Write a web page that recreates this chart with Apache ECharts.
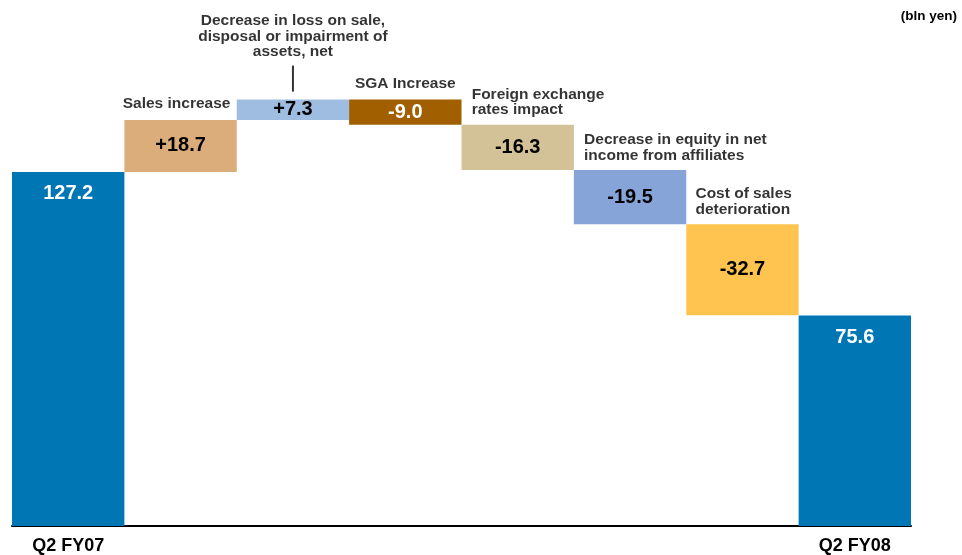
<!DOCTYPE html>
<html>
<head>
<meta charset="utf-8">
<script src="https://cdn.jsdelivr.net/npm/echarts@6/dist/echarts.min.js"></script>
<style>html,body{margin:0;padding:0;background:#fff}#c{width:962px;height:555px}</style>
</head>
<body>
<div id="c"></div>
<script>
// ---- data ----
var axisLabels = ['Q2 FY07', '', '', '', '', '', '', 'Q2 FY08'];
var itemNames = ['', 'Sales increase', 'Decrease in loss on sale,\ndisposal or impairment of\nassets, net', 'SGA Increase', 'Foreign exchange\nrates impact', 'Decrease in equity in net\nincome from affiliates', 'Cost of sales\ndeterioration', ''];
var changes = [127.2, 18.7, 7.3, -9.0, -16.3, -19.5, -32.7, 75.6];
var isTotal = [true, false, false, false, false, false, false, true];
var unitLabel = '(bln yen)';

// ---- styles ----
var colors = ['#0077B4', '#DAAD7B', '#9EBDE0', '#A15F00', '#D3C297', '#86A4D8', '#FFC44F', '#0077B4'];
var valueColors = ['#fff', '#000', '#000', '#fff', '#000', '#000', '#000', '#fff'];
var FONT = '"Liberation Sans", Arial, Helvetica, sans-serif';

// waterfall computation
var base = [], height = [], tops = [];
var running = 0;
for (var i = 0; i < changes.length; i++) {
  var v = changes[i];
  if (isTotal[i]) {
    base.push(0); height.push(v); running = v;
  } else if (v >= 0) {
    base.push(running); height.push(v); running += v;
  } else {
    base.push(running + v); height.push(-v); running += v;
  }
  tops.push(base[i] + height[i]);
}
function fmt(v, tot) {
  var s = Math.abs(v).toFixed(1);
  if (tot) return s;
  return (v >= 0 ? '+' : '-') + s;
}

var valueData = height.map(function (h, i) {
  var lab = { color: valueColors[i] };
  if (isTotal[i]) { lab.position = 'insideTop'; lab.distance = 12; }
  return {
    value: h,
    itemStyle: { color: colors[i] },
    label: lab
  };
});

// category annotations
var annotStyle = { fontSize: 15.5, fontWeight: 'bold', lineHeight: 15.5, color: '#000', fontFamily: FONT };
var annotConf = [
  null,
  { align: 'center', offset: [-4, 0], distance: 8 },
  { align: 'center', offset: [0, 0], distance: 8, leader: true },
  { align: 'center', offset: [0, 0], distance: 8 },
  { align: 'left', offset: [-46, 0], distance: 7 },
  { align: 'left', offset: [-46, 0], distance: 7 },
  { align: 'left', offset: [-47, 0], distance: 7 },
  null
];
var annotData = [];
for (var j = 0; j < itemNames.length; j++) {
  if (!itemNames[j]) continue;
  var c = annotConf[j];
  var lines = itemNames[j].split('\n');
  var text = lines.map(function (l) { return '{t|' + l + '}'; }).join('\n');
  if (c.leader) text += '\n{g|}\n{l|}';
  annotData.push({
    value: [j, tops[j]],
    label: {
      show: true,
      position: 'top',
      distance: c.distance,
      offset: c.offset,
      align: c.align,
      color: '#000',
      formatter: text,
      rich: {
        t: Object.assign({ align: c.align }, annotStyle),
        g: { height: 6, lineHeight: 6 },
        l: { width: 2, height: 26, lineHeight: 26, backgroundColor: '#000', align: 'center' }
      }
    }
  });
}

var chart = echarts.init(document.getElementById('c'), null, { renderer: 'canvas' });
chart.setOption({
  animation: false,
  backgroundColor: '#fff',
  title: {
    text: unitLabel,
    right: 0, top: 4,
    textStyle: { fontSize: 13.5, fontWeight: 'bold', color: '#000', fontFamily: FONT }
  },
  grid: { left: 12, right: 51, top: 25, bottom: 29 },
  xAxis: {
    type: 'category',
    data: axisLabels,
    axisLine: { lineStyle: { color: '#000', width: 2 } },
    axisTick: { show: false },
    axisLabel: { interval: 0, margin: 11, fontSize: 18, fontWeight: 'bold', color: '#000', fontFamily: FONT },
    splitLine: { show: false }
  },
  yAxis: {
    type: 'value', min: 0, max: 180, show: false,
    splitLine: { show: false }
  },
  series: [
    {
      type: 'bar', stack: 'w', data: base,
      itemStyle: { color: 'transparent' },
      barCategoryGap: '0%', silent: true
    },
    {
      type: 'bar', stack: 'w', data: valueData,
      barCategoryGap: '0%',
      label: {
        show: true, position: 'inside',
        fontSize: 20, fontWeight: 'bold', fontFamily: FONT,
        formatter: function (p) { return fmt(changes[p.dataIndex], isTotal[p.dataIndex]); }
      }
    },
    {
      type: 'scatter', data: annotData, symbolSize: 0, silent: true, z: 5
    }
  ]
});
</script>
</body>
</html>
